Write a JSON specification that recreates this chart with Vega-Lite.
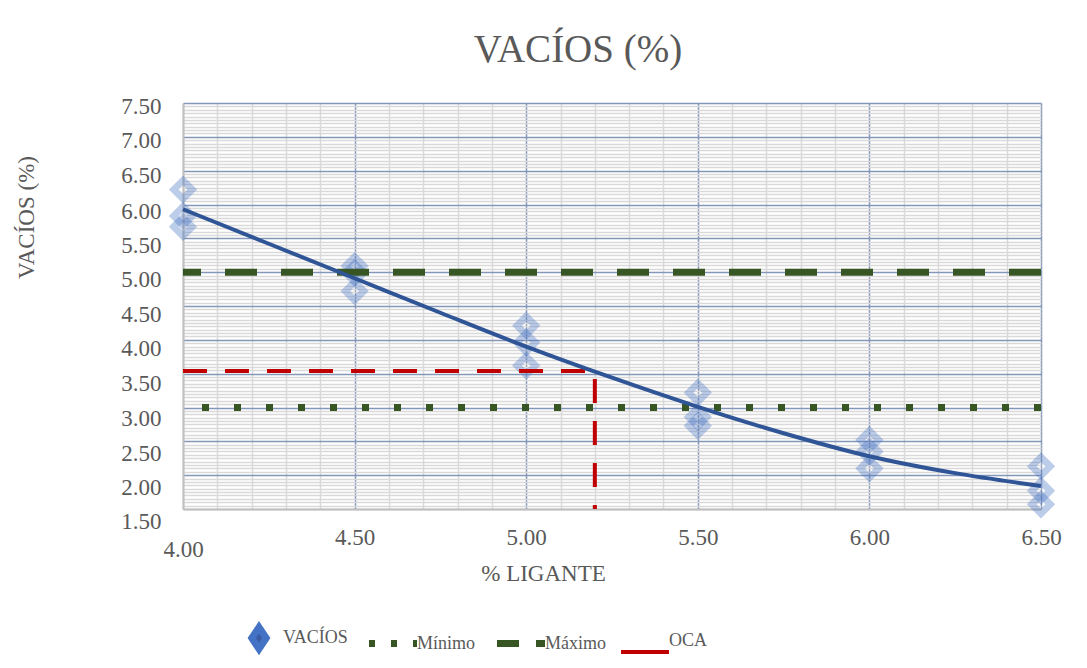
{
  "$schema": "https://vega.github.io/schema/vega-lite/v6.json",
  "autosize": "none",
  "width": 858,
  "height": 406,
  "padding": {"left": 183, "top": 103, "right": 46, "bottom": 159},
  "background": "#ffffff",
  "config": {
    "view": {"stroke": null},
    "font": "Liberation Serif"
  },
  "title": {
    "text": "VACÍOS (%)",
    "font": "Liberation Serif",
    "fontSize": 39,
    "fontWeight": "normal",
    "color": "#595959",
    "anchor": "middle",
    "frame": "group",
    "baseline": "alphabetic",
    "offset": -6,
    "dx": -34
  },
  "datasets": {
    "ensayos": [
      {"ligante": 4.0, "vacios": 6.22, "serie": "VACÍOS"},
      {"ligante": 4.0, "vacios": 5.83, "serie": "VACÍOS"},
      {"ligante": 4.0, "vacios": 5.67, "serie": "VACÍOS"},
      {"ligante": 4.5, "vacios": 5.09, "serie": "VACÍOS"},
      {"ligante": 4.5, "vacios": 4.99, "serie": "VACÍOS"},
      {"ligante": 4.5, "vacios": 4.72, "serie": "VACÍOS"},
      {"ligante": 5.0, "vacios": 4.21, "serie": "VACÍOS"},
      {"ligante": 5.0, "vacios": 3.96, "serie": "VACÍOS"},
      {"ligante": 5.0, "vacios": 3.62, "serie": "VACÍOS"},
      {"ligante": 5.5, "vacios": 3.22, "serie": "VACÍOS"},
      {"ligante": 5.5, "vacios": 2.86, "serie": "VACÍOS"},
      {"ligante": 5.5, "vacios": 2.73, "serie": "VACÍOS"},
      {"ligante": 6.0, "vacios": 2.52, "serie": "VACÍOS"},
      {"ligante": 6.0, "vacios": 2.35, "serie": "VACÍOS"},
      {"ligante": 6.0, "vacios": 2.10, "serie": "VACÍOS"},
      {"ligante": 6.5, "vacios": 2.13, "serie": "VACÍOS"},
      {"ligante": 6.5, "vacios": 1.77, "serie": "VACÍOS"},
      {"ligante": 6.5, "vacios": 1.57, "serie": "VACÍOS"}
    ],
    "tendencia": [
      {"ligante": 4.0, "vacios": 5.93},
      {"ligante": 4.25, "vacios": 5.42},
      {"ligante": 4.5, "vacios": 4.91},
      {"ligante": 4.75, "vacios": 4.40},
      {"ligante": 5.0, "vacios": 3.90},
      {"ligante": 5.25, "vacios": 3.44},
      {"ligante": 5.5, "vacios": 3.01},
      {"ligante": 5.75, "vacios": 2.62},
      {"ligante": 6.0, "vacios": 2.28},
      {"ligante": 6.25, "vacios": 2.03},
      {"ligante": 6.5, "vacios": 1.84}
    ],
    "limites": [
      {"serie": "Mínimo", "vacios": 3.0},
      {"serie": "Máximo", "vacios": 5.0}
    ],
    "oca": [
      {"serie": "OCA", "tramo": "horizontal", "x1": 4.0, "x2": 5.2, "y1": 3.54, "y2": 3.54},
      {"serie": "OCA", "tramo": "vertical", "x1": 5.2, "x2": 5.2, "y1": 3.54, "y2": 1.5}
    ]
  },
  "layer": [
    {
      "data": {"name": "ensayos"},
      "mark": {"type": "point", "shape": "diamond", "filled": false, "size": 340, "strokeWidth": 7, "strokeOpacity": 0.5},
      "encoding": {
        "x": {
          "field": "ligante", "type": "quantitative",
          "scale": {"domain": [4.0, 6.5], "nice": false, "zero": false},
          "axis": {
            "tickCount": 25,
            "grid": true,
            "gridColor": {"condition": [
              {"test": "datum.value < 4.001", "value": "#BFBFBF"},
              {"test": "abs(datum.value * 2 - round(datum.value * 2)) < 0.001", "value": "#8497B8"}
            ], "value": "#D9D9D9"},
            "gridWidth": 1.5,
            "ticks": false,
            "domainColor": "#BFBFBF",
            "domainWidth": 2,
            "labelExpr": "abs(datum.value * 2 - round(datum.value * 2)) < 0.001 ? format(datum.value, '.2f') : ''",
            "labelOverlap": false,
            "labelFlush": false,
            "labelBound": false,
            "labelFont": "Liberation Serif",
            "labelFontSize": 23,
            "labelColor": "#595959",
            "labelBaseline": "top",
            "labelPadding": {"condition": {"test": "datum.value < 4.001", "value": 29}, "value": 17},
            "title": "% LIGANTE",
            "titleFont": "Liberation Serif",
            "titleFontSize": 23,
            "titleFontWeight": "normal",
            "titleColor": "#595959",
            "titleX": 360,
            "titleY": 71,
            "titleAlign": "center",
            "titleBaseline": "alphabetic"
          }
        },
        "y": {
          "field": "vacios", "type": "quantitative",
          "scale": {"domain": [1.5, 7.5], "nice": false, "zero": false},
          "axis": {
            "tickCount": 120,
            "grid": true,
            "gridColor": {"condition": [
              {"test": "datum.value < 1.501", "value": "#BFBFBF"},
              {"test": "abs(datum.value * 2 - round(datum.value * 2)) < 0.001", "value": "#8497B8"}
            ], "value": "#D9D9D9"},
            "gridWidth": 1.5,
            "ticks": false,
            "domainColor": "#BFBFBF",
            "domainWidth": 2,
            "labelExpr": "abs(datum.value * 2 - round(datum.value * 2)) < 0.001 ? format(datum.value, '.2f') : ''",
            "labelOverlap": false,
            "labelFlush": false,
            "labelBound": false,
            "labelFont": "Liberation Serif",
            "labelFontSize": 23,
            "labelColor": "#595959",
            "labelPadding": 22,
            "labelBaseline": "middle",
            "labelOffset": {"condition": [
              {"test": "datum.value > 7.4", "value": 3},
              {"test": "datum.value > 6.9", "value": 4},
              {"test": "datum.value > 6.4", "value": 5},
              {"test": "datum.value > 4.9", "value": 7},
              {"test": "datum.value > 4.4", "value": 8},
              {"test": "datum.value > 3.9", "value": 9},
              {"test": "datum.value > 3.4", "value": 10},
              {"test": "datum.value > 2.9", "value": 11}
            ], "value": 12},
            "title": "VACÍOS (%)",
            "titleFont": "Liberation Serif",
            "titleFontSize": 23,
            "titleFontWeight": "normal",
            "titleColor": "#595959",
            "titleX": -150,
            "titleY": 114,
            "titleAngle": 270,
            "titleAlign": "center",
            "titleBaseline": "alphabetic"
          }
        },
        "color": {
          "field": "serie", "type": "nominal",
          "scale": {"domain": ["VACÍOS", "Mínimo", "Máximo", "OCA"], "range": ["#4472C4", "#375623", "#375623", "#C00000"]},
          "legend": {
            "orient": "none",
            "legendX": 67,
            "legendY": 526,
            "direction": "horizontal",
            "columns": 4,
            "title": null,
            "padding": 0,
            "symbolSize": 2304,
            "labelFont": "Liberation Serif",
            "labelFontSize": 18,
            "labelColor": "#595959",
            "labelOffset": 15,
            "columnPadding": 7,
            "encoding": {
              "symbols": {
                "shape": {"value": {"expr": "datum.value === 'VACÍOS' ? 'M-0.3,0L0,-0.45L0.3,0L0,0.45Z' : (datum.value === 'OCA' ? 'M-1,0.45L1,0.45' : 'M-1,0L1,0')"}},
                "fill": {"value": {"expr": "datum.value === 'VACÍOS' ? '#3A5BA0' : 'transparent'"}},
                "stroke": {"value": {"expr": "datum.value === 'OCA' ? '#C00000' : (datum.value === 'VACÍOS' ? 'transparent' : '#375623')"}},
                "strokeDash": {"value": {"expr": "datum.value === 'Mínimo' ? [6, 16] : (datum.value === 'Máximo' ? [22, 17] : [1, 0])"}},
                "strokeWidth": {"value": {"expr": "datum.value === 'OCA' ? 4 : 7"}},
                "opacity": {"value": 1},
                "strokeOpacity": {"value": 1}
              }
            }
          }
        }
      }
    },
    {
      "data": {"name": "limites"},
      "mark": {"type": "rule", "strokeWidth": 7},
      "encoding": {
        "y": {"field": "vacios", "type": "quantitative"},
        "color": {"field": "serie", "type": "nominal"},
        "strokeDash": {
          "field": "serie", "type": "nominal",
          "scale": {"domain": ["Mínimo", "Máximo"], "range": [[7, 25], [32, 24]]},
          "legend": null
        }
      }
    },
    {
      "data": {"name": "oca"},
      "transform": [{"filter": "datum.tramo === 'horizontal'"}],
      "mark": {"type": "rule", "strokeWidth": 4, "strokeDash": [24, 18]},
      "encoding": {
        "x": {"field": "x1", "type": "quantitative"},
        "x2": {"field": "x2"},
        "y": {"field": "y1", "type": "quantitative"},
        "y2": {"field": "y2"},
        "color": {"field": "serie", "type": "nominal"}
      }
    },
    {
      "data": {"name": "oca"},
      "transform": [{"filter": "datum.tramo === 'vertical'"}],
      "mark": {"type": "rule", "strokeWidth": 4, "strokeDash": [24, 18], "strokeDashOffset": 34},
      "encoding": {
        "x": {"field": "x1", "type": "quantitative"},
        "x2": {"field": "x2"},
        "y": {"field": "y1", "type": "quantitative"},
        "y2": {"field": "y2"},
        "color": {"field": "serie", "type": "nominal"}
      }
    },
    {
      "data": {"name": "tendencia"},
      "mark": {"type": "line", "color": "#2F5597", "strokeWidth": 4, "interpolate": "monotone"},
      "encoding": {
        "x": {"field": "ligante", "type": "quantitative"},
        "y": {"field": "vacios", "type": "quantitative"}
      }
    }
  ]
}
